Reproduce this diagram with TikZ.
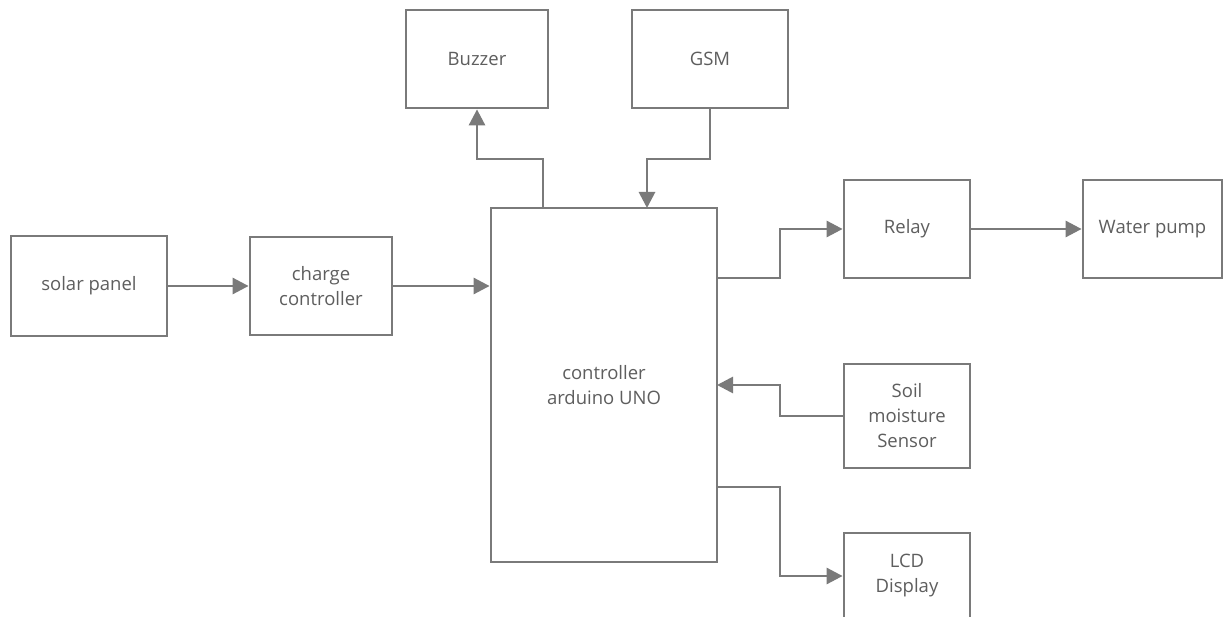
\documentclass[tikz,border=0pt]{standalone}
\usepackage{fontspec}
\setmainfont{Open Sans}
\usetikzlibrary{arrows.meta}
\definecolor{linegray}{HTML}{7A7A7A}
\definecolor{textgray}{HTML}{5E5E5E}
\begin{document}
\begin{tikzpicture}[x=1pt,y=-1pt,
  box/.style={draw=linegray, line width=2.8pt, fill=white, inner sep=0pt, text=textgray, align=center, font=\fontsize{18.5}{25}\selectfont},
  conn/.style={draw=linegray, line width=2.8pt, -{Triangle[length=16pt,width=16pt]}}]
\useasboundingbox (0,0) rectangle (1225,617);
\clip (0,0) rectangle (1225,617);
\fill[white] (0,0) rectangle (1225,617);
% boxes
\node[box, minimum width=156pt, minimum height=100pt] (solar) at (89,286) {solar panel};
\node[box, minimum width=142pt, minimum height=98pt] (charge) at (321,286) {charge\\controller};
\node[box, minimum width=226pt, minimum height=354pt] (ctrl) at (604,385) {controller\\arduino UNO};
\node[box, minimum width=142pt, minimum height=98pt] (buzzer) at (477,59) {Buzzer};
\node[box, minimum width=156pt, minimum height=98pt] (gsm) at (710,59) {GSM};
\node[box, minimum width=126pt, minimum height=98pt] (relay) at (907,229) {Relay};
\node[box, minimum width=139pt, minimum height=98pt] (pump) at (1152.5,229) {Water pump};
\node[box, minimum width=126pt, minimum height=104pt] (soil) at (907,416) {Soil\\moisture\\Sensor};
\node[box, minimum width=126pt, minimum height=86pt] (lcd) at (907,576) {LCD\\Display};
% junction coordinates
\coordinate (c1) at (543,208);
\coordinate (c2) at (647,208);
\coordinate (c3) at (717,278);
\coordinate (c4) at (717,385);
\coordinate (c5) at (717,487);
\coordinate (j1) at (780,0);
\coordinate (h1) at (0,159);
% connectors
\draw[conn] (solar) -- (charge);
\draw[conn] (charge.east) -- (charge.east -| ctrl.west);
\draw[conn] (c1) -- (c1 |- h1) -| (buzzer.south);
\draw[conn] (gsm.south) -- (gsm.south |- h1) -| (c2);
\draw[conn] (c3) -- (c3 -| j1) |- (relay.west);
\draw[conn] (relay) -- (pump);
\draw[conn] (soil.west) -- (soil.west -| j1) |- (c4);
\draw[conn] (c5) -- (c5 -| j1) |- (lcd.west);
\end{tikzpicture}
\end{document}
